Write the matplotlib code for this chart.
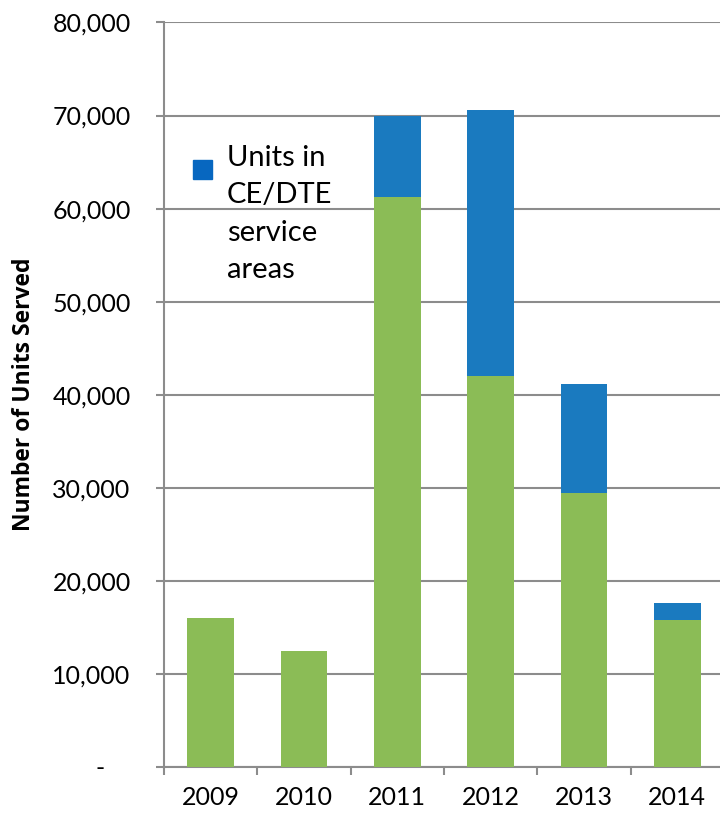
import matplotlib
matplotlib.use('Agg')
import matplotlib.pyplot as plt
from matplotlib.patches import Rectangle
import numpy as np

plt.rcParams['font.family'] = ['Lato', 'DejaVu Sans']

years = ['2009', '2010', '2011', '2012', '2013', '2014']
other_units = [16000, 12500, 61250, 42000, 29400, 15750]
ce_dte_units = [0, 0, 8750, 28600, 11700, 1850]
y_ticks = [0, 10000, 20000, 30000, 40000, 50000, 60000, 70000, 80000]
legend_label = 'Units in\nCE/DTE\nservice\nareas'

green = '#8BBC56'
blue = '#1A7ABF'
legend_blue = '#0767C0'
grid_col = '#8C8C8C'

fig = plt.figure(figsize=(7.2, 8.17), dpi=100)
ax = fig.add_axes([0.2278, 0.0612, 0.7778, 0.9113])

x = np.arange(len(years))
ax.bar(x, other_units, width=0.5, color=green, zorder=3)
ax.bar(x, ce_dte_units, width=0.5, bottom=other_units, color=blue, zorder=3)

ax.set_xlim(-0.5, len(years) - 0.5)
ax.set_ylim(0, 80000)

# y axis: accounting style labels, 0 shown as a dash
ax.set_yticks(y_ticks)
ax.set_yticklabels(['-    '] + ['{:,}'.format(v) for v in y_ticks[1:]])
ax.yaxis.grid(True, color=grid_col, linewidth=1.5, zorder=0)
ax.tick_params(axis='y', length=6, width=1.5, color=grid_col, pad=18, labelsize=18)

# x axis: ticks between categories, labels at centres
ax.set_xticks(np.arange(-0.5, len(years), 1.0))
ax.set_xticklabels([])
ax.set_xticks(x, minor=True)
ax.set_xticklabels(years, minor=True)
ax.tick_params(axis='x', which='major', length=6, width=1.5, color=grid_col)
ax.tick_params(axis='x', which='minor', length=0, pad=14, labelsize=18)

for side in ['top', 'right']:
    ax.spines[side].set_visible(False)
for side in ['left', 'bottom']:
    ax.spines[side].set_color(grid_col)
    ax.spines[side].set_linewidth(1.5)

ax.set_ylabel('Number of Units Served', fontsize=16.5, fontweight='bold',
              family='Open Sans', labelpad=12)

# legend: square next to the first line of a wrapped label
ax.add_patch(Rectangle((0.052, 0.790), 0.034, 0.0255, transform=ax.transAxes,
                       color=legend_blue, clip_on=False, zorder=5))
ax.text(0.1125, 0.836, legend_label, transform=ax.transAxes, fontsize=21,
        va='top', ha='left', linespacing=1.55, zorder=5)

fig.savefig('out.png', dpi=100)
